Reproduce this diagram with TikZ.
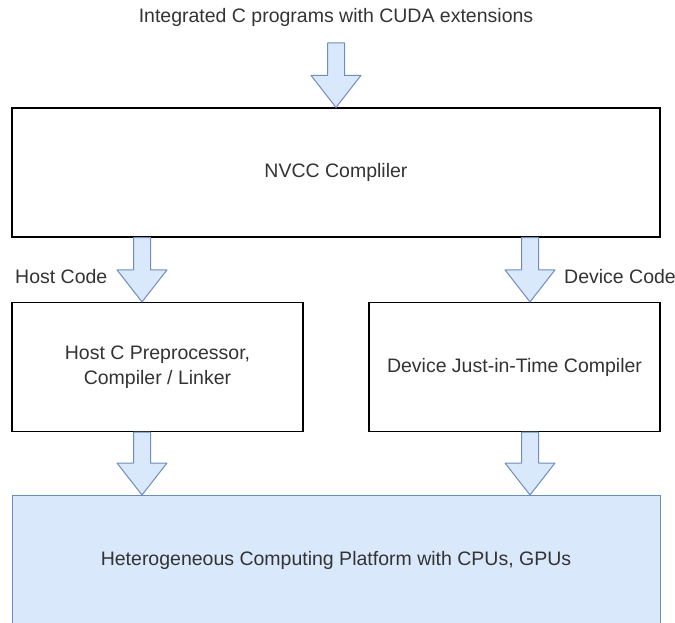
\documentclass[tikz,border=0pt]{standalone}
\usepackage{fontspec}
\setmainfont{Liberation Sans}
\usetikzlibrary{calc}

\definecolor{arrowfill}{HTML}{DAE8FC}
\definecolor{arrowline}{HTML}{6C8EBF}

% block arrow going straight down from #1 to #2
\newcommand{\flexarrow}[2]{%
  \draw[flexarrow] ($(#1)+(-8.5pt,0)$) -- ($(#1)+(8.5pt,0)$) -- ($(#2)+(8.5pt,32pt)$)
    -- ($(#2)+(25pt,32pt)$) -- (#2) -- ($(#2)+(-25pt,32pt)$) -- ($(#2)+(-8.5pt,32pt)$) -- cycle;}

\begin{document}
\begin{tikzpicture}[x=1pt,y=-1pt]
\tikzstyle{txt} = [font=\fontsize{19.5}{25}\selectfont, text=black!80, inner sep=0pt]
\tikzstyle{stage} = [txt, rectangle, draw=black, line width=1.2pt, fill=white, minimum height=129pt, text centered, align=center]
\tikzstyle{platform} = [stage, draw=arrowline, fill=arrowfill, line width=1pt]
\tikzstyle{flexarrow} = [draw=arrowline, fill=arrowfill, line width=1pt, line join=round]
\useasboundingbox (0,0) rectangle (675,623);
\node (title) [txt] at (336,17) {Integrated C programs with CUDA extensions};
\node (nvcc) [stage, minimum width=648pt] at (336,172.5) {NVCC Compliler};
\node (host) [stage, minimum width=291pt] at (157.5,367) {Host C Preprocessor,\\Compiler / Linker};
\node (device) [stage, minimum width=291pt] at (514.5,367) {Device Just-in-Time Compiler};
\node (gpu) [platform, minimum width=648pt] at (336,560) {Heterogeneous Computing Platform with CPUs, GPUs};
\node (hostlbl) [txt, anchor=west] at (15,277) {Host Code};
\node (devlbl) [txt, anchor=west] at (564,277) {Device Code};
\coordinate (inTail) at (336,43);
\coordinate (hostLane) at (142,0);
\coordinate (devLane) at (530,0);
\flexarrow{inTail}{nvcc.north}
\flexarrow{nvcc.south -| hostLane}{host.north -| hostLane}
\flexarrow{nvcc.south -| devLane}{device.north -| devLane}
\flexarrow{host.south -| hostLane}{gpu.north -| hostLane}
\flexarrow{device.south -| devLane}{gpu.north -| devLane}
\end{tikzpicture}
\end{document}
